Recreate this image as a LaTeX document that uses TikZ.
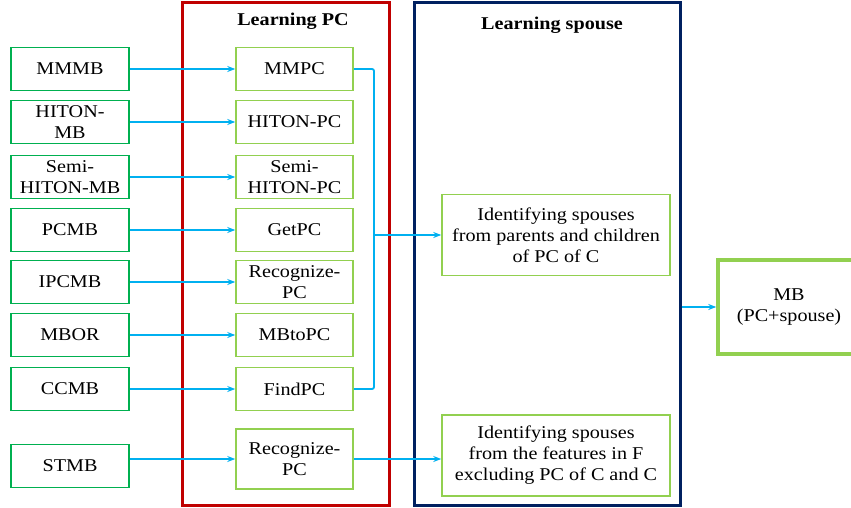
\documentclass[tikz,border=0pt]{standalone}
\usepackage{fontspec}
\setmainfont{Liberation Serif}[FakeStretch=1.12]
\usetikzlibrary{arrows.meta}
\definecolor{lgreen}{HTML}{00B050}
\definecolor{mgreen}{HTML}{92D050}
\definecolor{redc}{HTML}{C00000}
\definecolor{navyc}{HTML}{002060}
\definecolor{cyanc}{HTML}{00B0F0}
\tikzset{
  every node/.style={font=\fontsize{18}{20.5}\selectfont, align=center, inner sep=0pt},
  leftbox/.style={draw=lgreen, line width=1.8pt, minimum width=118pt, minimum height=43pt},
  midbox/.style={draw=mgreen, line width=1.5pt, minimum width=117pt, minimum height=43pt},
  spbox/.style={draw=mgreen, line width=1.5pt, minimum width=228pt, minimum height=81pt, font=\fontsize{18}{21}\selectfont},
  mbbox/.style={draw=mgreen, line width=3.5pt, minimum width=142pt, minimum height=94pt},
  frame/.style={line width=3pt, minimum width=#1, minimum height=502pt},
  conn/.style={draw=cyanc, line width=1.8pt},
  arr/.style={conn, -{Stealth[length=8pt,width=6pt]}},
  title/.style={font=\fontsize{18}{20}\selectfont\bfseries}
}
\begin{document}
\begin{tikzpicture}[x=1pt,y=-1pt]
\useasboundingbox (0,0) rectangle (851,508);
\clip (0,0) rectangle (851,508);
% frames
\node[frame=207pt, draw=redc] (lpc) at (285.5,254) {};
\node[frame=266pt, draw=navyc] (lsp) at (547,254) {};
\node[title] (t1) at (293,21) {Learning PC};
\node[title] (t2) at (552,25) {Learning spouse};
% left boxes
\node[leftbox] (mmmb) at (70,69) {MMMB};
\node[leftbox] (hitonmb) at (70,122) {HITON-\\MB};
\node[leftbox] (semimb) at (70,177) {Semi-\\HITON-MB};
\node[leftbox] (pcmb) at (70,230) {PCMB};
\node[leftbox] (ipcmb) at (70,282) {IPCMB};
\node[leftbox] (mbor) at (70,335) {MBOR};
\node[leftbox] (ccmb) at (70,389) {CCMB};
\node[leftbox] (stmb) at (70,466) {STMB};
% middle boxes
\node[midbox] (mmpc) at (294.5,69) {MMPC};
\node[midbox] (hitonpc) at (294.5,122) {HITON-PC};
\node[midbox] (semipc) at (294.5,177) {Semi-\\HITON-PC};
\node[midbox] (getpc) at (294.5,230) {GetPC};
\node[midbox] (recpc) at (294.5,282) {Recognize-\\PC};
\node[midbox] (mbtopc) at (294.5,335) {MBtoPC};
\node[midbox] (findpc) at (294.5,389) {FindPC};
\node[midbox, minimum height=60pt] (recpc2) at (294.5,459) {Recognize-\\PC};
% spouse boxes
\node[spbox] (sp1) at (556,235) {Identifying spouses\\from parents and children\\of PC of C};
\node[spbox] (sp2) at (556,455.5) {Identifying spouses\\from the features in F\\excluding PC of C and C};
% MB
\node[mbbox] (mb) at (789,307) {MB\\(PC+spouse)};
% connectors
\draw[arr] (mmmb) -- (mmpc);
\draw[arr] (hitonmb) -- (hitonpc);
\draw[arr] (semimb) -- (semipc);
\draw[arr] (pcmb) -- (getpc);
\draw[arr] (ipcmb) -- (recpc);
\draw[arr] (mbor) -- (mbtopc);
\draw[arr] (ccmb) -- (findpc);
\draw[arr] (stmb.east |- recpc2.west) -- (recpc2.west);
\coordinate (busA) at (374,69);
\coordinate (busB) at (374,389);
\draw[conn, rounded corners=2pt] (mmpc.east) -- (busA) -- (busB) -- (findpc.east);
\draw[arr] (busA |- sp1.west) -- (sp1.west);
\draw[arr] (recpc2.east) -- (recpc2.east -| sp2.west);
\draw[arr] (lsp.east |- mb.west) -- (mb.west);
\end{tikzpicture}
\end{document}
